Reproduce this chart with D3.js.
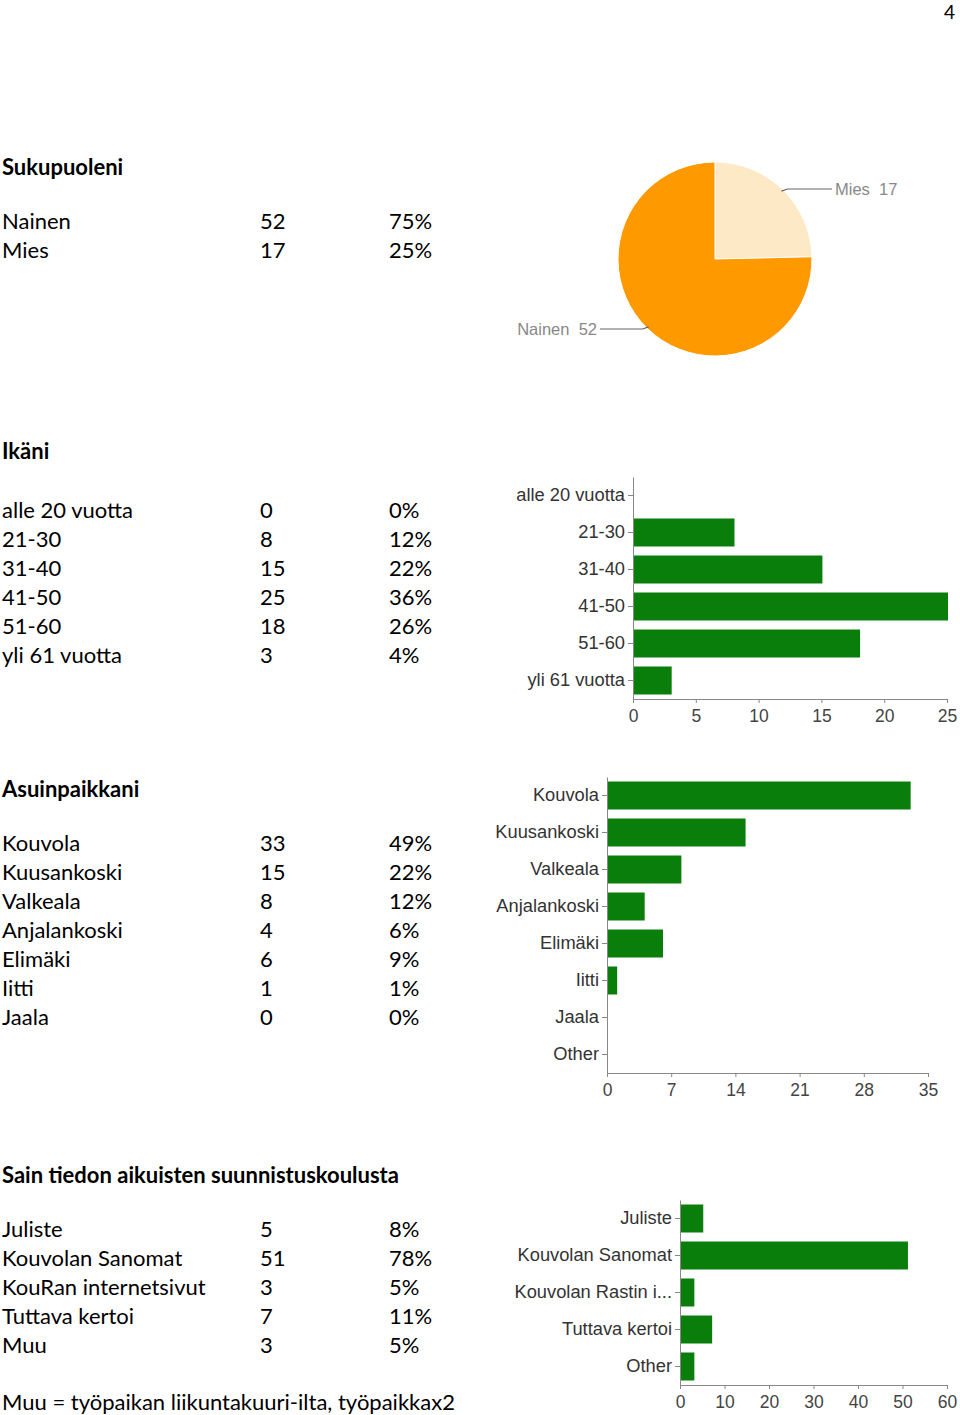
<!DOCTYPE html>
<html>
<head>
<meta charset="utf-8">
<script src="https://cdn.jsdelivr.net/npm/d3@7"></script>
<style>
  body { margin: 0; background: #fff; }
  svg { display: block; }
  .doc { font-family: Lato, "Open Sans", sans-serif; fill: #000; }
  .doc.title { font-weight: bold; }
  .lbl { font-family: "Liberation Sans", Arial, sans-serif; fill: #333; }
  .axis path, .axis line { stroke: #888; }
  .axis text { font-family: "Liberation Sans", Arial, sans-serif; fill: #444; }
</style>
</head>
<body>
<svg width="960" height="1415"></svg>
<script>
// data
const genderLabels = ['Nainen', 'Mies']
const genderCounts = [52, 17]
const genderPct = ['75%', '25%']

const ageLabels = ['alle 20 vuotta', '21-30', '31-40', '41-50', '51-60', 'yli 61 vuotta']
const ageCounts = [0, 8, 15, 25, 18, 3]
const agePct = ['0%', '12%', '22%', '36%', '26%', '4%']
const ageTicks = [0, 5, 10, 15, 20, 25]

const placeLabels = ['Kouvola', 'Kuusankoski', 'Valkeala', 'Anjalankoski', 'Elimäki', 'Iitti', 'Jaala']
const placeCounts = [33, 15, 8, 4, 6, 1, 0]
const placePct = ['49%', '22%', '12%', '6%', '9%', '1%', '0%']
const placeChartLabels = [...placeLabels, 'Other']
const placeChartCounts = [...placeCounts, 0]
const placeTicks = [0, 7, 14, 21, 28, 35]

const infoLabels = ['Juliste', 'Kouvolan Sanomat', 'KouRan internetsivut', 'Tuttava kertoi', 'Muu']
const infoCounts = [5, 51, 3, 7, 3]
const infoPct = ['8%', '78%', '5%', '11%', '5%']
const infoChartLabels = ['Juliste', 'Kouvolan Sanomat', 'Kouvolan Rastin i...', 'Tuttava kertoi', 'Other']
const infoTicks = [0, 10, 20, 30, 40, 50, 60]

const footnote = 'Muu = työpaikan liikuntakuuri-ilta, työpaikkax2'

// constants
const barColor = '#0a7e0a'
const rowH = 29
const fontSize = 22
const colCount = 260
const colPct = 389

const $svg = d3.select('svg')

// page number
$svg.append('text').attr('class', 'doc')
  .attr('x', 955).attr('y', 19).attr('text-anchor', 'end')
  .style('font-size', '19px').text('4')

function table(title, titleY, firstY, labels, counts, pct){
  const g = $svg.append('g')
  g.append('text').attr('class', 'doc title')
    .attr('x', 2).attr('y', titleY)
    .style('font-size', fontSize + 'px').text(title)
  const rows = g.selectAll('.row').data(labels.map((d, i) => ({label: d, n: counts[i], per: pct[i]})))
    .enter().append('g').attr('class', 'row')
    .attr('transform', (d, i) => `translate(0, ${firstY + i * rowH})`)
  rows.append('text').attr('class', 'doc').attr('x', 2).style('font-size', fontSize + 'px').text(d => d.label)
  rows.append('text').attr('class', 'doc').attr('x', colCount).style('font-size', fontSize + 'px').text(d => d.n)
  rows.append('text').attr('class', 'doc').attr('x', colPct).style('font-size', fontSize + 'px').text(d => d.per)
}

function barChart(labels, counts, ticks, x0, x1, yTop){
  const step = 37
  const scaleX = d3.scaleLinear().domain([0, d3.max(ticks)]).range([x0, x1])
  const scaleY = d3.scaleBand().domain(labels)
    .range([yTop, yTop + step * labels.length])
    .paddingInner(9 / 37).paddingOuter(4.5 / 37)
  const g = $svg.append('g')

  g.selectAll('.bar').data(labels.map((d, i) => ({item: d, n: counts[i]})))
    .enter().append('rect').attr('class', 'bar')
    .attr('x', scaleX(0) + 1)
    .attr('y', d => scaleY(d.item))
    .attr('width', d => Math.max(0, scaleX(d.n) - scaleX(0)))
    .attr('height', scaleY.bandwidth())
    .attr('fill', barColor)

  const yBottom = yTop + step * labels.length
  g.append('g').attr('class', 'axis')
    .attr('transform', `translate(0, ${yBottom})`)
    .call(d3.axisBottom(scaleX).tickValues(ticks).tickSize(4).tickSizeOuter(0).tickPadding(7))
    .call(a => a.selectAll('text').style('font-size', '17.5px'))

  g.append('g').attr('class', 'axis')
    .attr('transform', `translate(${x0}, 0)`)
    .call(d3.axisLeft(scaleY).tickSize(5).tickSizeOuter(0).tickPadding(3))
    .call(a => a.selectAll('text').attr('class', 'lbl').style('font-size', '18.3px').style('fill', '#333'))
}

// section 1: gender
table('Sukupuoleni', 175, 229, genderLabels, genderCounts, genderPct)

const cx = 715, cy = 259, r = 97
const pie = d3.pie().sort(null).value(d => d.n)
const arcs = pie(genderLabels.map((d, i) => ({label: d, n: genderCounts[i]})).reverse())
const arc = d3.arc().innerRadius(0).outerRadius(r)
const pieColors = ['#fde9c6', '#ff9900']
const $pie = $svg.append('g').attr('transform', `translate(${cx}, ${cy})`)
$pie.selectAll('path').data(arcs).enter().append('path')
  .attr('d', arc).attr('fill', (d, i) => pieColors[i])
  .attr('stroke', '#fff').attr('stroke-width', 1)

// pie callouts
const callouts = [
  {arc: arcs[0], lx: 832, ly: 189, anchor: 'start', tx: 835},
  {arc: arcs[1], lx: 600, ly: 329, anchor: 'end', tx: 597}
]
callouts.forEach(c => {
  const mid = (c.arc.startAngle + c.arc.endAngle) / 2
  const ex = cx + Math.sin(mid) * (r - 2), ey = cy - Math.cos(mid) * (r - 2)
  const kx = c.anchor === 'start' ? ex + 6 : ex - 6
  $svg.append('path')
    .attr('d', `M${ex},${ey} L${kx},${c.ly} L${c.lx},${c.ly}`)
    .attr('fill', 'none').attr('stroke', '#666').attr('stroke-width', 1.2)
  $svg.append('text').attr('class', 'lbl')
    .attr('x', c.tx).attr('y', c.ly + 6).attr('text-anchor', c.anchor)
    .style('font-size', '16.5px').style('fill', '#888').style('white-space', 'pre')
    .text(`${c.arc.data.label}  ${c.arc.data.n}`)
})

// section 2: age
table('Ikäni', 459, 518, ageLabels, ageCounts, agePct)
barChart(ageLabels, ageCounts, ageTicks, 633, 947, 477)

// section 3: place
table('Asuinpaikkani', 797, 851, placeLabels, placeCounts, placePct)
barChart(placeChartLabels, placeChartCounts, placeTicks, 607, 928, 777)

// section 4: info
table('Sain tiedon aikuisten suunnistuskoulusta', 1183, 1237, infoLabels, infoCounts, infoPct)
barChart(infoChartLabels, infoCounts, infoTicks, 680, 947, 1200)

$svg.append('text').attr('class', 'doc')
  .attr('x', 2).attr('y', 1410)
  .style('font-size', fontSize + 'px').text(footnote)
</script>
</body>
</html>
